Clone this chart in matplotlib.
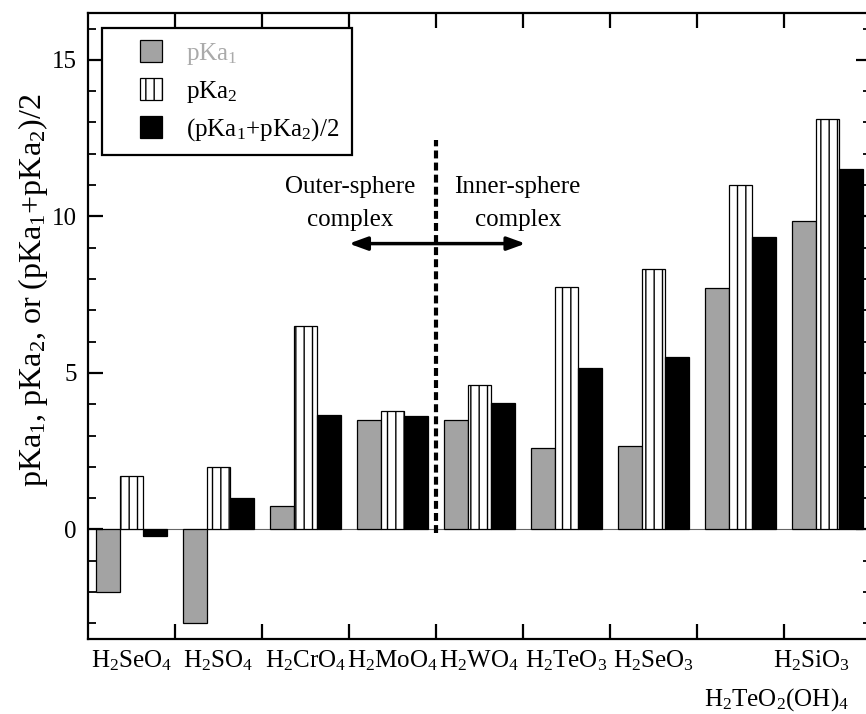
import numpy as np
import matplotlib
matplotlib.use("Agg")
import matplotlib.pyplot as plt
import matplotlib.patches as mpatches
from matplotlib.legend_handler import HandlerPatch
from matplotlib.ticker import MultipleLocator

plt.rcParams['font.family'] = ['Liberation Serif', 'DejaVu Serif']
plt.rcParams['mathtext.fontset'] = 'custom'
plt.rcParams['mathtext.rm'] = 'Liberation Serif'
plt.rcParams['mathtext.it'] = 'Liberation Serif'
plt.rcParams['mathtext.default'] = 'regular'
plt.rcParams['hatch.color'] = '#555555'
plt.rcParams['hatch.linewidth'] = 1.0

# data
acids = ['H$_2$SeO$_4$', 'H$_2$SO$_4$', 'H$_2$CrO$_4$', 'H$_2$MoO$_4$', 'H$_2$WO$_4$',
         'H$_2$TeO$_3$', 'H$_2$SeO$_3$', 'H$_2$TeO$_2$(OH)$_4$', 'H$_2$SiO$_3$']
pka1 = [-2.0, -3.0, 0.74, 3.49, 3.51, 2.6, 2.65, 7.7, 9.86]
pka2 = [1.7, 2.0, 6.51, 3.77, 4.62, 7.75, 8.33, 11.01, 13.11]
pka_mean = [-0.2, 1.01, 3.64, 3.61, 4.05, 5.17, 5.5, 9.35, 11.5]
label_shift = [0, 0, 0, 0, 0, 0, 0, 0.42, -0.18]

fig = plt.figure(figsize=(8.66, 7.14), dpi=100)
ax = fig.add_axes([0.1016, 0.105, 0.904, 0.877])

x = np.arange(len(acids))
w = 0.27
b1 = ax.bar(x - w, pka1, w, color='#a3a3a3', edgecolor='black', linewidth=0.9)
b2 = ax.bar(x, pka2, w, color='white', edgecolor='black', linewidth=0.9, hatch='||')
b3 = ax.bar(x + w, pka_mean, w, color='black', edgecolor='black', linewidth=0.9)
ax.axhline(0, color='#666666', linewidth=0.8, zorder=0)

# divider between outer/inner sphere
ax.plot([3.5, 3.5], [-0.1, 12.45], color='black', linewidth=3, linestyle=(0, (1.9, 1.0)))
ax.annotate('', xy=(2.5, 9.13), xytext=(4.53, 9.13),
            arrowprops=dict(arrowstyle='<|-|>,head_length=1.1,head_width=0.4', color='black',
                            lw=2.5, shrinkA=0, shrinkB=0))
ax.text(2.51, 10.4, 'Outer-sphere\ncomplex', ha='center', va='center', fontsize=18,
        linespacing=1.65)
ax.text(4.44, 10.4, 'Inner-sphere\ncomplex', ha='center', va='center', fontsize=18,
        linespacing=1.65)

ax.set_xlim(-0.5, 8.5)
ax.set_ylim(-3.5, 16.5)
ax.set_xticks(np.arange(0.5, 8.5, 1))
ax.set_xticklabels([])
pos = x + np.array(label_shift)
ax.set_xticks([p for i, p in enumerate(pos) if i != 7], minor=True)
ax.set_xticklabels([a for i, a in enumerate(acids) if i != 7], minor=True)
# the long label sits one row lower
ax.text(pos[7], -0.076, acids[7], transform=ax.get_xaxis_transform(), ha='center', va='top',
        fontsize=18)
ax.yaxis.set_major_locator(MultipleLocator(5))
ax.yaxis.set_minor_locator(MultipleLocator(1))
ax.tick_params(axis='x', which='major', direction='in', length=11, width=1.6, top=True)
ax.tick_params(axis='x', which='minor', length=0, labelsize=18, pad=7)
ax.tick_params(axis='y', which='major', direction='in', length=11, width=1.6, right=True,
               labelsize=18, pad=8)
ax.tick_params(axis='y', which='minor', direction='in', length=6, width=1.3, right=True)
for s in ax.spines.values():
    s.set_linewidth(1.6)

ax.set_ylabel('pKa$_1$, pKa$_2$, or (pKa$_1$+pKa$_2$)/2', fontsize=23)
ax.yaxis.set_label_coords(-0.049, 0.557)


def square(legend, orig_handle, xdescent, ydescent, width, height, fontsize):
    s = height
    return mpatches.Rectangle((width - s - xdescent, -ydescent), s, s)


handles = [b1.patches[0], b2.patches[0], b3.patches[0]]
labels = ['pKa$_1$', 'pKa$_2$', '(pKa$_1$+pKa$_2$)/2']
leg = ax.legend(handles, labels, loc='upper left', bbox_to_anchor=(0.018, 0.976),
                fontsize=18, frameon=True, fancybox=False, borderpad=0.5, borderaxespad=0,
                handlelength=1.9, handleheight=0.96, handletextpad=0.96, labelspacing=0.45,
                handler_map={mpatches.Rectangle: HandlerPatch(patch_func=square)})
leg.get_frame().set_edgecolor('black')
leg.get_frame().set_linewidth(1.6)
leg.get_frame().set_alpha(1)
leg.get_texts()[0].set_color('#aaaaaa')

fig.savefig('out.png', dpi=100)
